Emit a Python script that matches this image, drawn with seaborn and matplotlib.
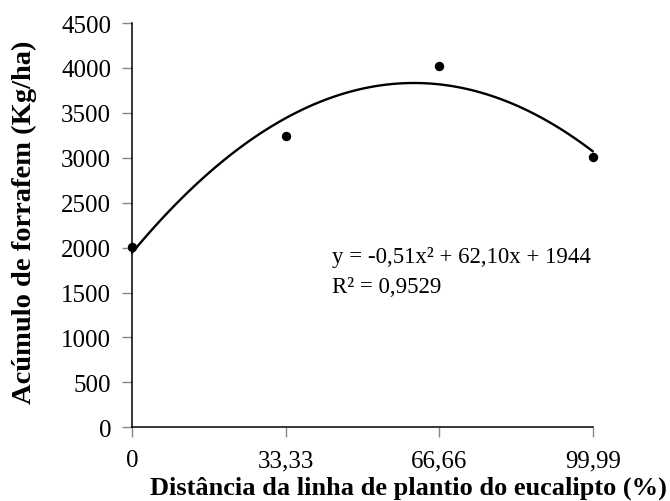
import matplotlib
matplotlib.use("Agg")
import matplotlib.pyplot as plt
import seaborn as sns
import pandas as pd

# Data
distancia = [0, 33.33, 66.66, 99.99]
acumulo = [2008, 3241, 4018, 3004]
xtick_labels = ["0", "33,33", "66,66", "99,99"]
yticks = [0, 500, 1000, 1500, 2000, 2500, 3000, 3500, 4000, 4500]
equation_line = "y = -0,51x\u00b2 + 62,10x + 1944"
r2_line = "R\u00b2 = 0,9529"

sns.set_style("white")
plt.rcParams['font.family'] = ['Liberation Serif', 'DejaVu Serif']
plt.rcParams['text.color'] = 'black'
plt.rcParams['axes.labelcolor'] = 'black'

df = pd.DataFrame({"x": distancia, "y": acumulo})

fig = plt.figure(figsize=(6.7, 5.02), dpi=100)
ax = fig.add_axes([0.197, 0.147, 0.688, 0.805])

sns.regplot(data=df, x="x", y="y", order=2, ci=None, truncate=True, ax=ax,
            scatter_kws=dict(s=46, color="black", alpha=1, linewidths=0, zorder=3),
            line_kws=dict(color="black", lw=1.7))

ax.set_xlim(0, 99.99)
ax.set_ylim(0, 4500)
ax.set_xticks(distancia)
ax.set_xticklabels(xtick_labels)
ax.set_yticks(yticks)
ax.tick_params(axis="both", labelsize=18, direction="out", length=7, width=1,
               color="#888888", labelcolor="black")
ax.tick_params(axis="x", bottom=True, pad=9)
ax.tick_params(axis="y", left=True, pad=8)

for s in ["top", "right"]:
    ax.spines[s].set_visible(False)
for s in ["left", "bottom"]:
    ax.spines[s].set_color("black")
    ax.spines[s].set_linewidth(1.1)
for c in ax.collections:
    c.set_clip_on(False)
for l in ax.lines:
    l.set_clip_on(False)

ax.set_xlabel("Distância da linha de plantio do eucalipto (%)", fontsize=19,
              fontweight="bold")
ax.xaxis.label.set_va("center")
ax.xaxis.set_label_coords(0.599, -0.149)
ax.set_ylabel("Acúmulo de forrafem (Kg/ha)", fontsize=20.5, fontweight="bold")
ax.yaxis.label.set_va("center")
ax.yaxis.set_label_coords(-0.233, 0.51)

ax.text(43.4, 1838, equation_line, fontsize=16.5, ha="left", va="baseline")
ax.text(43.4, 1504, r2_line, fontsize=16.5, ha="left", va="baseline")

fig.savefig("out.png", dpi=100)
